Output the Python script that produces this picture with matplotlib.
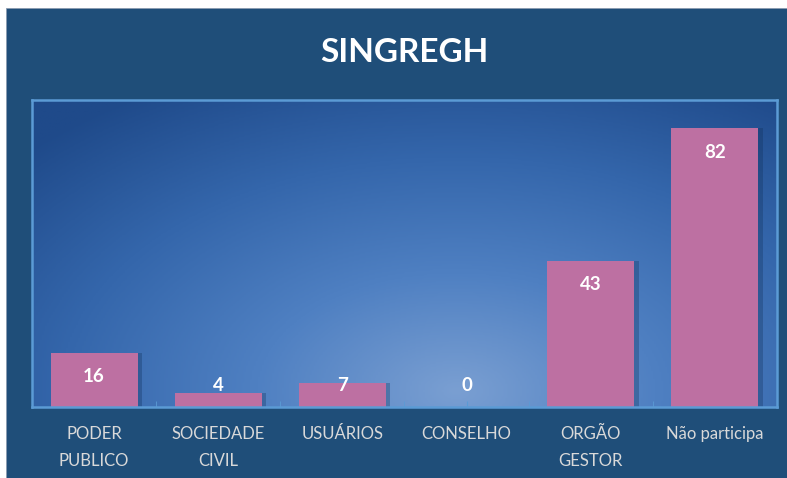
import numpy as np
import matplotlib
matplotlib.use("Agg")
import matplotlib.pyplot as plt
from matplotlib.colors import LinearSegmentedColormap
from matplotlib.patches import Rectangle

categories = ["PODER\nPUBLICO", "SOCIEDADE\nCIVIL", "USUÁRIOS", "CONSELHO", "ORGÃO\nGESTOR", "Não participa"]
values = [16, 4, 7, 0, 43, 82]
title = "SINGREGH"

plt.rcParams['font.family'] = ['Lato', 'DejaVu Sans']

W, H = 787, 478
fig = plt.figure(figsize=(W / 100, H / 100), dpi=100)
fig.patch.set_facecolor("white")
# dark blue frame (white strip left and top like the screenshot)
fig.patches.append(Rectangle((6 / W, 0), 1 - 6 / W, 1 - 8 / H, transform=fig.transFigure,
                             facecolor="#1f4e79", edgecolor="#8a9bb0", linewidth=0.6, zorder=-5))

ax = fig.add_axes([32 / W, 1 - 407 / H, 745 / W, 307 / H])
ax.set_zorder(2)
ax.set_xlim(-0.5, len(values) - 0.5)
ax.set_ylim(0, 90.3)

# radial gradient plot area
nx, ny = 400, 200
gx, gy = np.meshgrid(np.linspace(0, 1, nx), np.linspace(0, 1, ny))
r = np.sqrt(((gx - 0.57) / 0.8) ** 2 + ((gy - 0.05) / 1.15) ** 2)
r = np.clip(r, 0, 1)
cmap = LinearSegmentedColormap.from_list("bg", ["#7a9fd2", "#4f80c2", "#3466ab", "#1f4a8a"])
ax.imshow(r, cmap=cmap, extent=[-0.5, len(values) - 0.5, 0, 90.3], origin="lower",
          aspect="auto", zorder=0, vmin=0, vmax=1)

x = np.arange(len(values))
ax.bar(x + 0.035, values, width=0.7, color="#0f2d55", alpha=0.3, zorder=1)
ax.bar(x, values, width=0.7, color="#bd70a2", zorder=2)

for xi, v in zip(x, values):
    if v >= 10:
        ax.text(xi, v - 7, str(v), ha="center", va="center", color="white",
                fontsize=13.5, fontweight="bold", zorder=3)
    else:
        ax.text(xi, 6.2, str(v), ha="center", va="center", color="white",
                fontsize=13.5, fontweight="bold", zorder=3)

for s in ax.spines.values():
    s.set_color("#5b9bd5")
    s.set_linewidth(1.8)

ax.set_yticks([])
ax.set_xticks(x)
ax.set_xticklabels(categories, color="#d9d9d9", fontsize=12, linespacing=1.8, va="top")
ax.set_xticks(np.arange(-0.5, len(values), 1), minor=True)
ax.tick_params(axis="x", which="both", direction="in", length=4, color="#5b9bd5", pad=14)

fig.text(404 / W, 1 - 52 / H, title, ha="center", va="center", color="white",
         fontsize=24, fontweight="bold")

fig.savefig("out.png", dpi=100)
